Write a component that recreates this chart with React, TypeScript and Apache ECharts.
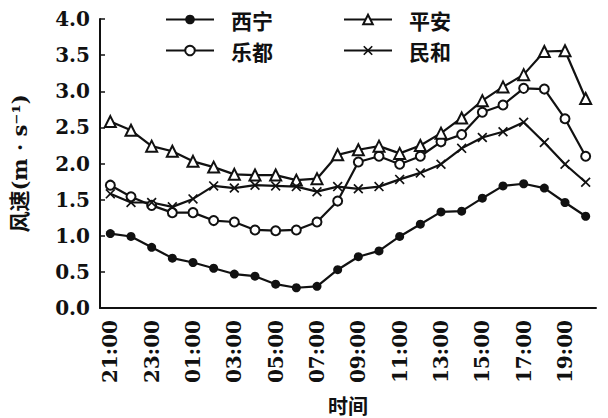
import React, { useEffect, useRef } from 'react';
import * as echarts from 'echarts';

const categories = [
  '21:00', '22:00', '23:00', '00:00', '01:00', '02:00', '03:00', '04:00',
  '05:00', '06:00', '07:00', '08:00', '09:00', '10:00', '11:00', '12:00',
  '13:00', '14:00', '15:00', '16:00', '17:00', '18:00', '19:00', '20:00',
];

const xining = [1.03, 0.99, 0.84, 0.69, 0.63, 0.55, 0.47, 0.44, 0.33, 0.28, 0.30, 0.53,
  0.71, 0.79, 0.99, 1.16, 1.33, 1.34, 1.52, 1.69, 1.72, 1.66, 1.46, 1.27];
const ledu = [1.70, 1.54, 1.42, 1.32, 1.32, 1.21, 1.19, 1.08, 1.07, 1.08, 1.19, 1.48,
  2.02, 2.10, 1.99, 2.10, 2.30, 2.40, 2.71, 2.81, 3.04, 3.03, 2.62, 2.10];
const pingan = [2.58, 2.46, 2.24, 2.17, 2.03, 1.95, 1.85, 1.84, 1.84, 1.77, 1.79, 2.12,
  2.19, 2.24, 2.14, 2.25, 2.42, 2.63, 2.87, 3.06, 3.23, 3.55, 3.56, 2.90];
const minhe = [1.58, 1.46, 1.46, 1.40, 1.51, 1.69, 1.66, 1.70, 1.69, 1.68, 1.61, 1.68,
  1.65, 1.68, 1.78, 1.87, 1.99, 2.21, 2.36, 2.44, 2.57, 2.29, 1.99, 1.74];

const seriesNames = ['西宁', '乐都', '平安', '民和'];
const yAxisName = '风速(m · s⁻¹)';
const xAxisName = '时间';

const INK = '#111111';
const NUM_FONT = "'DejaVu Serif', 'Liberation Serif', serif";
const CJK_FONT = "'Noto Sans CJK SC', sans-serif";
const CROSS = 'path://M0,1.2L1.2,0L5,3.8L8.8,0L10,1.2L6.2,5L10,8.8L8.8,10L5,6.2L1.2,10L0,8.8L3.8,5Z';

export default function App() {
  const ref = useRef<HTMLDivElement>(null);
  useEffect(() => {
    if (!ref.current) return;
    const chart = echarts.init(ref.current, undefined, { renderer: 'svg' });
    const lineStyle = { color: INK, width: 2.2 };
    const legendBase = {
      orient: 'vertical' as const,
      top: 4,
      itemWidth: 48,
      itemHeight: 12,
      itemGap: 10,
      textStyle: {
        color: INK,
        fontFamily: CJK_FONT,
        fontWeight: 'bold' as const,
        fontSize: 21,
        lineHeight: 21,
        padding: [0, 0, 0, 12],
      },
    };
    chart.setOption({
      animation: false,
      backgroundColor: '#ffffff',
      grid: {
        left: 100, right: 12, top: 19, bottom: 110,
        containLabel: false, outerBoundsMode: 'none',
      },
      legend: [
        { ...legendBase, left: 160, data: [seriesNames[0], seriesNames[1]] },
        { ...legendBase, left: 338, data: [seriesNames[2], seriesNames[3]] },
      ],
      xAxis: {
        type: 'category',
        data: categories,
        boundaryGap: true,
        name: xAxisName,
        nameLocation: 'middle',
        nameGap: 87,
        nameTextStyle: { color: INK, fontFamily: CJK_FONT, fontWeight: 'bold', fontSize: 20 },
        axisLine: { lineStyle: { color: INK, width: 2 } },
        axisTick: { inside: true, length: 5, interval: 0, lineStyle: { color: INK, width: 1.5 } },
        axisLabel: {
          interval: 1,
          rotate: 90,
          margin: 12,
          color: INK,
          fontFamily: NUM_FONT,
          fontWeight: 'bold',
          fontSize: 20,
        },
        splitLine: { show: false },
      },
      yAxis: {
        type: 'value',
        min: 0,
        max: 4,
        interval: 0.5,
        name: yAxisName,
        nameLocation: 'middle',
        nameGap: 70,
        nameTextStyle: { color: INK, fontFamily: NUM_FONT + ', ' + CJK_FONT, fontWeight: 'bold', fontSize: 21 },
        axisLine: { show: true, lineStyle: { color: INK, width: 2 } },
        axisTick: { show: true, inside: true, length: 5, lineStyle: { color: INK, width: 1.5 } },
        axisLabel: {
          margin: 10,
          color: INK,
          fontFamily: NUM_FONT,
          fontWeight: 'bold',
          fontSize: 20,
          formatter: (v: number) => v.toFixed(1),
        },
        splitLine: { show: false },
      },
      series: [
        {
          name: seriesNames[0], type: 'line', data: xining,
          symbol: 'circle', symbolSize: 9,
          itemStyle: { color: INK },
          lineStyle,
        },
        {
          name: seriesNames[1], type: 'line', data: ledu,
          symbol: 'emptyCircle', symbolSize: 9,
          itemStyle: { color: INK, borderColor: INK, borderWidth: 1.8 },
          lineStyle,
        },
        {
          name: seriesNames[2], type: 'line', data: pingan,
          symbol: 'emptyTriangle', symbolSize: 11,
          itemStyle: { color: INK, borderColor: INK, borderWidth: 1.8 },
          lineStyle,
        },
        {
          name: seriesNames[3], type: 'line', data: minhe,
          symbol: CROSS, symbolSize: 10,
          itemStyle: { color: INK },
          lineStyle,
        },
      ],
    });
    return () => chart.dispose();
  }, []);
  return (
    <div
      ref={ref}
      style={{ position: 'fixed', left: 0, top: 0, width: 608, height: 418 }}
    />
  );
}
